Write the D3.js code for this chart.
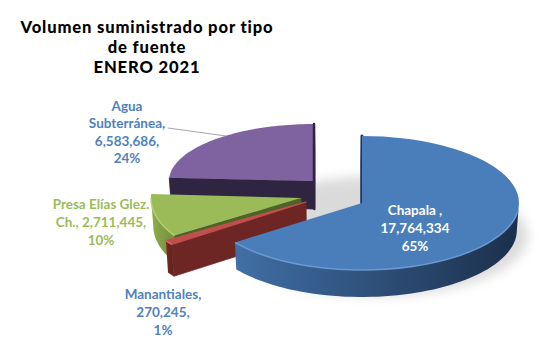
<!DOCTYPE html>
<html>
<head>
<meta charset="utf-8">
<script src="https://cdn.jsdelivr.net/npm/d3@7"></script>
<style>
  html, body { margin: 0; padding: 0; background: #fff; }
  svg { display: block; }
  text { font-family: Lato, "Open Sans", sans-serif; font-weight: 700; }
  text.title { font-family: Lato, "Open Sans", sans-serif; font-weight: 900; letter-spacing: 0.85px; }
</style>
</head>
<body>
<svg id="chart" width="541" height="358"></svg>
<script>
// ---------- data ----------
const categories = ["Chapala", "Manantiales", "Presa Elías Glez. Ch.", "Agua Subterránea"];
const values = [17764334, 270245, 2711445, 6583686];
const titleLines = ["Volumen suministrado por tipo", "de fuente", "ENERO 2021"];

// ---------- formatting ----------
const fmt = d3.format(",");
const total = d3.sum(values);
const pct = i => d3.format(".0%")(values[i] / total);
const labelLines = [
  ["Chapala ,", fmt(values[0]), pct(0)],
  ["Manantiales,", fmt(values[1]) + ",", pct(1)],
  ["Presa Elías Glez.", "Ch., " + fmt(values[2]) + ",", pct(2)],
  ["Agua", "Subterránea,", fmt(values[3]) + ",", pct(3)]
];

// ---------- layout / style (per slice, exploded 3D look) ----------
const geom = [
  {cx: 362, cy: 203, rx: 157, ry: 67, d: 27},   // Chapala
  {cx: 306, cy: 202, rx: 166, ry: 72, d: 32},   // Manantiales
  {cx: 301, cy: 198, rx: 150, ry: 70, d: 28},   // Presa
  {cx: 314, cy: 181, rx: 145, ry: 57, d: 28}    // Agua
];
const styles = [
  {top: "#4a7ebb", face: "#1f3656", sideA: "#416fa6", sideB: "#1b2f4b", hl: "#6d9bd3"},
  {top: "#c0504d", face: "#6e2624", sideA: "#7a2b28", sideB: "#5e1f1d", hl: "#d46a66"},
  {top: "#9bbb59", face: "#4f6228", sideA: "#8eae4e", sideB: "#6f8b3a", hl: "#b2cf74"},
  {top: "#7f63a0", face: "#302540", sideA: "#3a2d4c", sideB: "#2a2036", hl: "#9479b6"}
];
const labelPos = [
  {x: 415, y: 215, color: "#ffffff"},
  {x: 163, y: 299, color: "#4f81bd"},
  {x: 101, y: 209, color: "#9bbb59"},
  {x: 127, y: 111, color: "#4f81bd"}
];
const lineH = 18;

const svg = d3.select("#chart");
const defs = svg.append("defs");

const pie = d3.pie().sort(null).value(d => d)(values);

function pt(g, a, z) {
  const x = g.cx + g.rx * Math.sin(a);
  const y = g.cy - g.ry * Math.cos(a);
  return [x + (340 - x) * 0.012 * (z / g.d), y + z];
}
function vtx(g, z) {
  return [g.cx + (340 - g.cx) * 0.012 * (z / g.d), g.cy + z];
}
function arcPts(g, a0, a1, z, n = 60) {
  const out = [];
  for (let i = 0; i <= n; i++) out.push(pt(g, a0 + (a1 - a0) * i / n, z));
  return out;
}
const line = d3.line();

// soft shadow
const f = defs.append("filter").attr("id", "blur").attr("x", "-20%").attr("y", "-20%").attr("width", "140%").attr("height", "140%");
f.append("feGaussianBlur").attr("stdDeviation", 6);
svg.append("ellipse").attr("cx", 378).attr("cy", 236).attr("rx", 150).attr("ry", 60)
  .attr("fill", "#000").attr("opacity", 0.14).attr("filter", "url(#blur)");

// gradients for sides
styles.forEach((s, i) => {
  const lg = defs.append("linearGradient").attr("id", "side" + i).attr("x1", 0).attr("x2", 1).attr("y1", 0).attr("y2", 0);
  lg.append("stop").attr("offset", "0%").attr("stop-color", s.sideA);
  lg.append("stop").attr("offset", "100%").attr("stop-color", s.sideB);
});

function drawSide(i, a0, a1) {
  const lo = Math.max(a0, Math.PI / 2), hi = Math.min(a1, 3 * Math.PI / 2);
  if (hi <= lo) return;
  const g = geom[i];
  const pts = arcPts(g, lo, hi, 0).concat(arcPts(g, hi, lo, g.d));
  svg.append("path").attr("d", line(pts) + "Z").attr("fill", `url(#side${i})`);
}
function drawFace(i, a, color, sw) {
  const g = geom[i];
  const pts = [vtx(g, 0), pt(g, a, 0), pt(g, a, g.d), vtx(g, g.d)];
  svg.append("path").attr("d", line(pts) + "Z").attr("fill", color)
    .attr("stroke", color).attr("stroke-width", sw || 0.8).attr("stroke-linejoin", "round");
}
function drawTop(i, a0, a1) {
  const g = geom[i];
  const pts = [vtx(g, 0)].concat(arcPts(g, a0, a1, 0));
  svg.append("path").attr("d", line(pts) + "Z").attr("fill", styles[i].top)
    .attr("stroke", styles[i].top).attr("stroke-width", i === 1 ? 1.2 : 0).attr("stroke-linejoin", "round");
}
function drawHighlight(i, a0, a1) {
  const lo = Math.max(a0, Math.PI / 2 + 0.15), hi = Math.min(a1, 3 * Math.PI / 2);
  if (hi <= lo) return;
  const g = geom[i];
  svg.append("path").attr("d", line(arcPts(g, lo, hi, 0)))
    .attr("fill", "none").attr("stroke", styles[i].hl).attr("stroke-width", 1.6).attr("opacity", 0.9);
}

// draw back to front: Agua (3), Presa (2), Manantiales (1), Chapala (0)
[3, 2, 1, 0].forEach(i => {
  const a0 = pie[i].startAngle, a1 = pie[i].endAngle;
  const s = styles[i];
  if (i === 0) {
    drawFace(0, a0, s.face, 3);
    drawSide(0, a0, a1);
    drawTop(0, a0, a1);
    drawHighlight(0, a0, a1);
  } else if (i === 3) {
    drawFace(3, a0, s.face);
    drawSide(3, a0, a1);
    drawTop(3, a0, a1);
    drawFace(3, a1, s.face, 2.5);
  } else {
    drawSide(i, a0, a1);
    drawFace(i, a0, s.face);
    drawTop(i, a0, a1);
    drawHighlight(i, a0, a1);
  }
});

// leader line for Agua Subterránea
svg.append("line").attr("x1", 168).attr("y1", 128).attr("x2", 226).attr("y2", 136)
  .attr("stroke", "#a6a6a6").attr("stroke-width", 1);

// labels
labelLines.forEach((lines, i) => {
  const p = labelPos[i];
  const t = svg.append("text").attr("text-anchor", "middle")
    .attr("font-size", 13.5).attr("fill", p.color);
  lines.forEach((l, k) => t.append("tspan").attr("x", p.x).attr("y", p.y + k * (i === 3 ? 17.3 : lineH)).text(l));
});

// title
const tt = svg.append("text").attr("class", "title").attr("text-anchor", "middle").attr("font-size", 16.6).attr("fill", "#000");
titleLines.forEach((l, k) => tt.append("tspan").attr("x", 147).attr("y", 33 + k * 20).text(l));
</script>
</body>
</html>
